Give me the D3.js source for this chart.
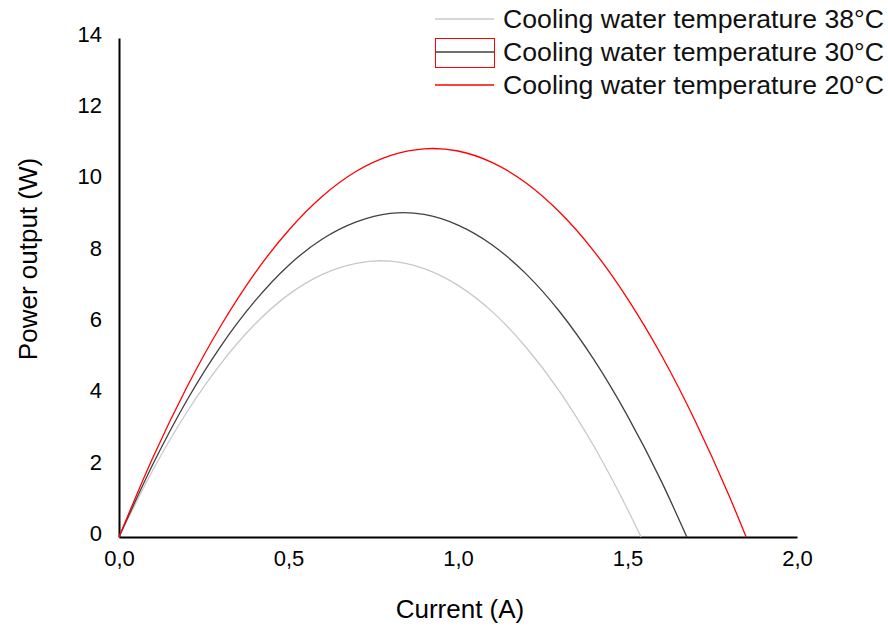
<!DOCTYPE html>
<html><head><meta charset="utf-8">
<script src="https://cdn.jsdelivr.net/npm/d3@7"></script>
<style>body{margin:0;background:#fff}text{font-family:"Liberation Sans",Arial,sans-serif}</style>
</head><body><svg id="c" width="888" height="632"></svg>
<script>
const current38 = [0,0.1,0.2,0.3,0.4,0.5,0.6,0.7,0.77,0.8,0.9,1.0,1.1,1.2,1.3,1.4,1.5,1.54];
const power38   = [0,1.88,3.50,4.86,5.96,6.80,7.37,7.68,7.75,7.74,7.53,7.06,6.33,5.33,4.08,2.56,0.78,0];
const current30 = [0,0.1,0.2,0.3,0.4,0.5,0.6,0.7,0.8,0.84,0.9,1.0,1.1,1.2,1.3,1.4,1.5,1.6,1.675];
const power30   = [0,2.04,3.83,5.35,6.61,7.62,8.36,8.84,9.08,9.1,9.05,8.75,8.20,7.39,6.32,4.99,3.40,1.56,0];
const current20 = [0,0.1,0.2,0.3,0.4,0.5,0.6,0.7,0.8,0.9,0.925,1.0,1.1,1.2,1.3,1.4,1.5,1.6,1.7,1.8,1.85];
const power20   = [0,2.23,4.20,5.92,7.39,8.60,9.56,10.26,10.70,10.89,10.9,10.83,10.51,9.94,9.11,8.03,6.69,5.10,3.25,1.15,0];
const xTicks = [0,0.5,1.0,1.5,2.0];
const yTicks = [0,2,4,6,8,10,12,14];
const seriesNames = ["Cooling water temperature 38°C","Cooling water temperature 30°C","Cooling water temperature 20°C"];
const seriesColors = ["#c8c8c8","#404040","#ff0000"];

const svg = d3.select("#c");
const x = d3.scaleLinear().domain([0,2]).range([119,797]);
const y = d3.scaleLinear().domain([0,14]).range([537,38]);

const fmt = d => d3.format(".1f")(d).replace(".", ",");
const gx = svg.append("g").attr("transform","translate(0,537)")
  .call(d3.axisBottom(x).tickValues(xTicks).tickFormat(fmt).tickSize(0).tickPadding(13));
gx.select(".domain").attr("stroke","#000").attr("stroke-width",2);
gx.selectAll("text").attr("font-size",22).attr("fill","#000").attr("font-family","Liberation Sans, Arial, sans-serif");
const gy = svg.append("g").attr("transform","translate(119,0)")
  .call(d3.axisLeft(y).tickValues(yTicks).tickSize(0).tickPadding(17));
gy.select(".domain").attr("stroke","#000").attr("stroke-width",2);
gy.selectAll("text").attr("font-size",22).attr("fill","#000").attr("dy","0.15em").attr("font-family","Liberation Sans, Arial, sans-serif");

const data = [
  current38.map((c,i)=>[c,power38[i]]),
  current30.map((c,i)=>[c,power30[i]]),
  current20.map((c,i)=>[c,power20[i]])
];
const line = d3.line().x(d=>x(d[0])).y(d=>y(d[1])).curve(d3.curveMonotoneX);
data.forEach((d,i)=>{
  svg.append("path").datum(d).attr("d",line).attr("fill","none")
    .attr("stroke",seriesColors[i]).attr("stroke-width",1.3);
});

svg.append("text").attr("x",460).attr("y",618).attr("text-anchor","middle")
  .attr("font-size",26).text("Current (A)");
svg.append("text").attr("transform","translate(37,259) rotate(-90)").attr("text-anchor","middle")
  .attr("font-size",26).text("Power output (W)");

const lg = svg.append("g");
seriesNames.forEach((n,i)=>{
  const yy = 19 + i*33;
  lg.append("line").attr("x1",435).attr("x2",494).attr("y1",yy).attr("y2",yy)
    .attr("stroke",seriesColors[i]).attr("stroke-width",1.3);
  lg.append("text").attr("x",503).attr("y",yy+9).attr("font-size",25).attr("fill","#111")
    .attr("textLength",381).attr("lengthAdjust","spacingAndGlyphs").text(n);
});
lg.append("rect").attr("x",435.5).attr("y",38.5).attr("width",59).attr("height",29)
  .attr("fill","none").attr("stroke","#ff0000").attr("stroke-width",1);
</script></body></html>
